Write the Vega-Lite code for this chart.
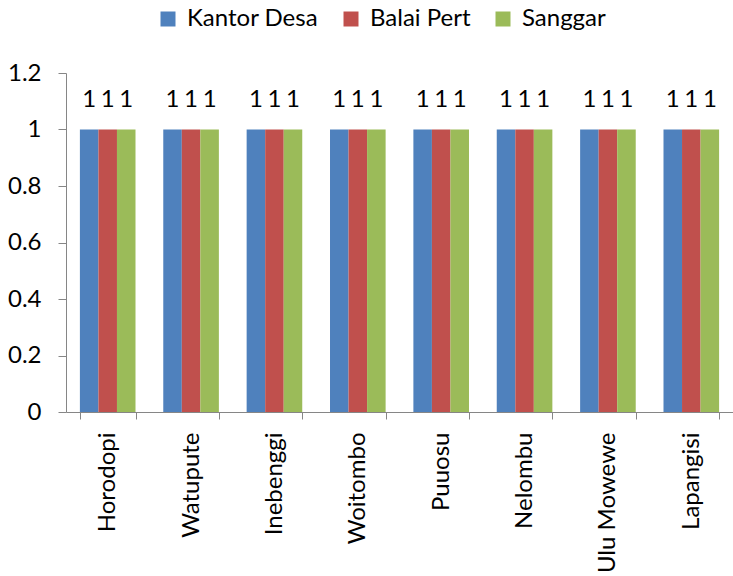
{
  "$schema": "https://vega.github.io/schema/vega-lite/v6.json",
  "width": 667,
  "height": 339,
  "autosize": {"type": "none"},
  "padding": {"left": 66, "top": 73, "right": 0, "bottom": 164},
  "background": "white",
  "data": {
    "values": [
      {"desa": "Horodopi", "fasilitas": "Kantor Desa", "nilai": 1},
      {"desa": "Horodopi", "fasilitas": "Balai Pert", "nilai": 1},
      {"desa": "Horodopi", "fasilitas": "Sanggar", "nilai": 1},
      {"desa": "Watupute", "fasilitas": "Kantor Desa", "nilai": 1},
      {"desa": "Watupute", "fasilitas": "Balai Pert", "nilai": 1},
      {"desa": "Watupute", "fasilitas": "Sanggar", "nilai": 1},
      {"desa": "Inebenggi", "fasilitas": "Kantor Desa", "nilai": 1},
      {"desa": "Inebenggi", "fasilitas": "Balai Pert", "nilai": 1},
      {"desa": "Inebenggi", "fasilitas": "Sanggar", "nilai": 1},
      {"desa": "Woitombo", "fasilitas": "Kantor Desa", "nilai": 1},
      {"desa": "Woitombo", "fasilitas": "Balai Pert", "nilai": 1},
      {"desa": "Woitombo", "fasilitas": "Sanggar", "nilai": 1},
      {"desa": "Puuosu", "fasilitas": "Kantor Desa", "nilai": 1},
      {"desa": "Puuosu", "fasilitas": "Balai Pert", "nilai": 1},
      {"desa": "Puuosu", "fasilitas": "Sanggar", "nilai": 1},
      {"desa": "Nelombu", "fasilitas": "Kantor Desa", "nilai": 1},
      {"desa": "Nelombu", "fasilitas": "Balai Pert", "nilai": 1},
      {"desa": "Nelombu", "fasilitas": "Sanggar", "nilai": 1},
      {"desa": "Ulu Mowewe", "fasilitas": "Kantor Desa", "nilai": 1},
      {"desa": "Ulu Mowewe", "fasilitas": "Balai Pert", "nilai": 1},
      {"desa": "Ulu Mowewe", "fasilitas": "Sanggar", "nilai": 1},
      {"desa": "Lapangisi", "fasilitas": "Kantor Desa", "nilai": 1},
      {"desa": "Lapangisi", "fasilitas": "Balai Pert", "nilai": 1},
      {"desa": "Lapangisi", "fasilitas": "Sanggar", "nilai": 1}
    ]
  },
  "encoding": {
    "x": {
      "field": "desa",
      "type": "nominal",
      "sort": null,
      "scale": {"paddingInner": 0.333, "paddingOuter": 0.1667},
      "axis": {
        "title": null,
        "labelAngle": -90,
        "labelAlign": "right",
        "labelBaseline": "middle",
        "labelFont": "Lato",
        "labelFontSize": 24,
        "labelColor": "black",
        "labelPadding": 13,
        "tickBand": "extent",
        "tickSize": 7,
        "tickColor": "#868686",
        "domainColor": "#868686",
        "grid": false
      }
    },
    "xOffset": {"field": "fasilitas", "sort": ["Kantor Desa", "Balai Pert", "Sanggar"]},
    "y": {
      "field": "nilai",
      "type": "quantitative",
      "scale": {"domain": [0, 1.2], "nice": false},
      "axis": {
        "title": null,
        "values": [0, 0.2, 0.4, 0.6, 0.8, 1, 1.2],
        "format": "~g",
        "grid": false,
        "labelFont": "Lato",
        "labelFontSize": 24,
        "labelColor": "black",
        "labelPadding": 17,
        "tickSize": 8,
        "tickColor": "#868686",
        "domainColor": "#868686"
      }
    }
  },
  "layer": [
    {
      "mark": {"type": "bar"},
      "encoding": {
        "color": {
          "field": "fasilitas",
          "type": "nominal",
          "sort": ["Kantor Desa", "Balai Pert", "Sanggar"],
          "scale": {
            "domain": ["Kantor Desa", "Balai Pert", "Sanggar"],
            "range": ["#4F81BD", "#C0504D", "#9BBB59"]
          },
          "legend": {
            "title": null,
            "orient": "none",
            "direction": "horizontal",
            "legendX": 90,
            "legendY": -66,
            "symbolType": "square",
            "symbolSize": 225,
            "symbolStrokeWidth": 0,
            "labelFont": "Lato",
            "labelFontSize": 24,
            "labelColor": "black",
            "labelOffset": 7,
            "columnPadding": 20,
            "padding": 0
          }
        }
      }
    },
    {
      "mark": {"type": "text", "baseline": "bottom", "dy": -18, "font": "Lato", "fontSize": 24, "color": "black"},
      "encoding": {"text": {"field": "nilai", "type": "quantitative"}}
    }
  ],
  "config": {"view": {"stroke": null}}
}
